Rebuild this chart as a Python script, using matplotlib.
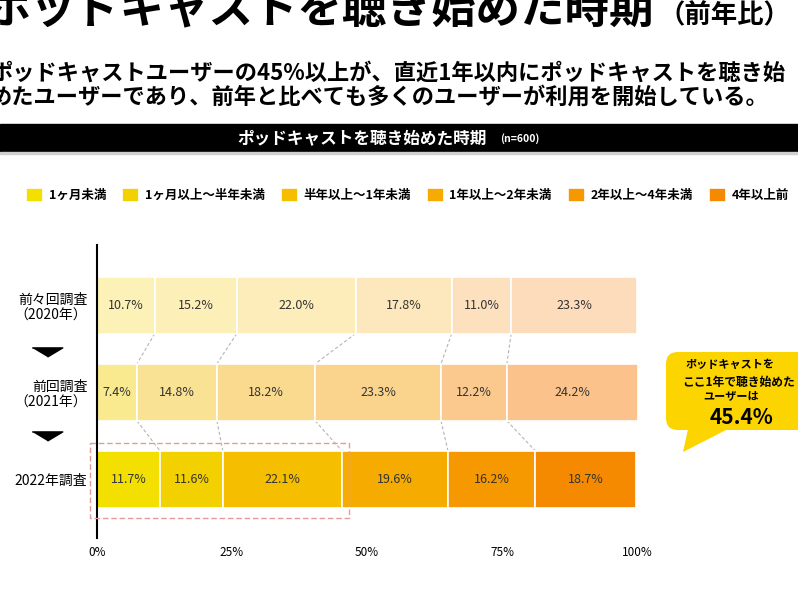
import numpy as np
import matplotlib
matplotlib.use('Agg')
import matplotlib.pyplot as plt
from matplotlib.patches import Rectangle, FancyBboxPatch, Polygon

plt.rcParams['font.family'] = ['Noto Sans CJK JP', 'DejaVu Sans']

# data
surveys = ['前々回調査\n（2020年）', '前回調査\n（2021年）', '2022年調査']
periods = ['1ヶ月未満', '1ヶ月以上～半年未満', '半年以上～1年未満',
           '1年以上～2年未満', '2年以上～4年未満', '4年以上前']
share_2020 = [10.7, 15.2, 22.0, 17.8, 11.0, 23.3]
share_2021 = [7.4, 14.8, 18.2, 23.3, 12.2, 24.2]
share_2022 = [11.7, 11.6, 22.1, 19.6, 16.2, 18.7]
xticks = [0, 25, 50, 75, 100]
xtick_labels = ['0%', '25%', '50%', '75%', '100%']
recent_total = 45.4

colors_2020 = ['#fcf1b6', '#fcefb8', '#fcedbb', '#fde8bd', '#fde1bf', '#fddcbb']
colors_2021 = ['#f9e98f', '#f9e293', '#fada8f', '#fad48c', '#fbc98d', '#fbc38b']
colors_2022 = ['#f3e000', '#f3d000', '#f5bf00', '#f5ab00', '#f69800', '#f58a00']

W, H = 798, 594
fig = plt.figure(figsize=(W / 100, H / 100), dpi=100)

def fx(px):
    return px / W

def fy(py):
    return 1 - py / H

# header texts
fig.text(fx(-14), fy(23), 'ポッドキャストを聴き始めた時期', fontsize=32,
         fontweight='bold', va='baseline', ha='left')
fig.text(fx(659), fy(23), '（前年比）', fontsize=19, fontweight='bold',
         va='baseline', ha='left')
fig.text(fx(-10), fy(73), 'ポッドキャストユーザーの45%以上が、直近1年以内にポッドキャストを聴き始',
         fontsize=16, fontweight='bold', va='center', ha='left')
fig.text(fx(-10), fy(97), 'めたユーザーであり、前年と比べても多くのユーザーが利用を開始している。',
         fontsize=16, fontweight='bold', va='center', ha='left')

fig.patches.append(Rectangle((0, fy(152)), 1, 28 / H, transform=fig.transFigure,
                             color='black', zorder=0))
fig.patches.append(Rectangle((0, fy(154)), 1, 2 / H, transform=fig.transFigure,
                             color='#d0d0d0', zorder=0))
fig.text(fx(237), fy(138), 'ポッドキャストを聴き始めた時期', fontsize=12,
         fontweight='bold', color='white', va='center', ha='left')
fig.text(fx(500), fy(139), '(n=600)', fontsize=7.5, fontweight='bold',
         color='white', va='center', ha='left')

# chart
ax = fig.add_axes([fx(97), fy(538), (637 - 97) / W, (538 - 245) / H])
rows = [share_2020, share_2021, share_2022]
row_colors = [colors_2020, colors_2021, colors_2022]
h = 0.653

for i, (vals, cols) in enumerate(zip(rows, row_colors)):
    left = 0
    for j, v in enumerate(vals):
        ax.barh(i, v, left=left, height=h, color=cols[j], edgecolor='white',
                linewidth=1.2, label=periods[j] if i == 2 else None, clip_on=False)
        ax.text(left + v / 2, i, '{:.1f}%'.format(v), ha='center', va='center',
                fontsize=9, color='#333333')
        left += v

cums = [np.cumsum(r) for r in rows]
for i in range(2):
    for j in range(5):
        ax.plot([cums[i][j], cums[i + 1][j]], [i + h / 2, i + 1 - h / 2],
                ls=(0, (3, 2)), color='#b5b5b5', lw=0.8, zorder=0)

# highlight box around the last-year share
ax.add_patch(Rectangle((-1.3, 1.582), 48.0, 0.86, fill=False, ec='#e89a9a',
                       lw=1, ls=(0, (4, 2)), clip_on=False, zorder=5))

# arrows between rows
tri = [(-1, 0.3), (1, 0.3), (0, -0.3)]
ax.plot([-9.2, -9.2], [0.533, 1.5], ls='none', marker=tri, markersize=22,
        color='black', clip_on=False)

ax.set_xlim(0, 100)
ax.set_ylim(2.67, -0.688)
ax.set_xticks(xticks, xtick_labels)
ax.set_yticks([0, 1, 2], surveys)
ax.tick_params(axis='x', length=0, pad=6, labelsize=8.5)
ax.tick_params(axis='y', length=0, pad=7, labelsize=10)
for s in ['top', 'right', 'bottom']:
    ax.spines[s].set_visible(False)
ax.spines['left'].set_linewidth(1.5)

ax.legend(loc='center left', bbox_to_anchor=(fx(26), fy(195)),
          bbox_transform=fig.transFigure, ncol=6, frameon=False,
          prop={'size': 9, 'weight': 'bold'}, handlelength=1.35,
          handleheight=1.35, handletextpad=0.45, columnspacing=1.3,
          borderpad=0, borderaxespad=0)

# callout
inch = fig.dpi_scale_trans
fig.patches.append(FancyBboxPatch((6.66, (H - 430) / 100), 1.7, 0.78,
                                  boxstyle='round,pad=0,rounding_size=0.12',
                                  transform=inch, fc='#fcd400', ec='none'))
fig.patches.append(Polygon([(6.88, (H - 429) / 100), (6.83, (H - 452) / 100),
                            (7.28, (H - 429) / 100)], closed=True,
                           transform=inch, fc='#fcd400', ec='none'))
fig.text(fx(730), fy(364), 'ポッドキャストを', fontsize=8, fontweight='bold',
         ha='center', va='center')
fig.text(fx(682), fy(382), 'ここ1年で聴き始めた', fontsize=8.5, fontweight='bold',
         ha='left', va='center')
fig.text(fx(731), fy(397), 'ユーザーは', fontsize=8, fontweight='bold',
         ha='center', va='center')
fig.text(fx(741), fy(417), '{:.1f}%'.format(recent_total), fontsize=15,
         fontweight='bold', ha='center', va='center')

fig.savefig('out.png', dpi=100)
